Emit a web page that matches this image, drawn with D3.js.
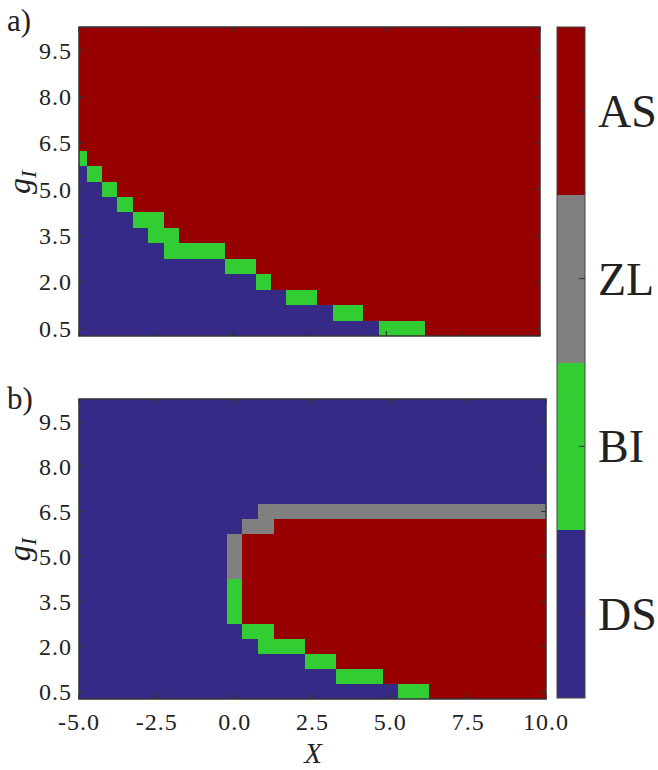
<!DOCTYPE html>
<html>
<head>
<meta charset="utf-8">
<script src="https://cdn.jsdelivr.net/npm/d3@7"></script>
<style>
  body { margin: 0; background: #fff; }
  text { font-family: "Liberation Serif", "DejaVu Serif", serif; fill: #222; }
</style>
</head>
<body>
<svg id="chart" width="658" height="770"></svg>
<script>
// phase categories (colorbar order, bottom to top)
const phases = ["DS", "BI", "ZL", "AS"];
const phaseColors = { DS: "#352a86", BI: "#32cd32", ZL: "#808080", AS: "#960000" };

// grid of the parameter scan
const xValues = [-5, -4.5, -4, -3.5, -3, -2.5, -2, -1.5, -1, -0.5, 0, 0.5, 1, 1.5, 2, 2.5,
                 3, 3.5, 4, 4.5, 5, 5.5, 6, 6.5, 7, 7.5, 8, 8.5, 9, 9.5, 10];
// rows from top (g=10.0) to bottom (g=0.5)
const gValues = [10, 9.5, 9, 8.5, 8, 7.5, 7, 6.5, 6, 5.5, 5, 4.5, 4, 3.5, 3, 2.5, 2, 1.5, 1, 0.5];

const xTicks = [-5, -2.5, 0, 2.5, 5, 7.5, 10];
const yTicks = [0.5, 2.0, 3.5, 5.0, 6.5, 8.0, 9.5];

// each row as runs: phase + count of cells, left to right
const panelARows = [
  "A31", "A31", "A31", "A31", "A31", "A31", "A31", "A31",
  "B1 A30",
  "D1 B1 A29",
  "D2 B1 A28",
  "D3 B1 A27",
  "D4 B2 A25",
  "D5 B2 A24",
  "D6 B4 A21",
  "D10 B2 A19",
  "D12 B1 A18",
  "D14 B2 A15",
  "D17 B2 A12",
  "D20 B3 A8"
];
const panelBRows = [
  "D31", "D31", "D31", "D31", "D31", "D31", "D31",
  "D12 Z19",
  "D11 Z2 A18",
  "D10 Z1 A20",
  "D10 Z1 A20",
  "D10 Z1 A20",
  "D10 B1 A20",
  "D10 B1 A20",
  "D10 B1 A20",
  "D11 B2 A18",
  "D12 B3 A16",
  "D15 B2 A14",
  "D17 B3 A11",
  "D21 B2 A8"
];

const codeToPhase = { D: "DS", B: "BI", Z: "ZL", A: "AS" };

function decodeRows(rows) {
  const cells = [];
  rows.forEach((row, r) => {
    let col = 0;
    row.split(" ").forEach(run => {
      const phase = codeToPhase[run[0]];
      const n = +run.slice(1);
      for (let k = 0; k < n; k++) {
        cells.push({ x: xValues[col], g: gValues[r], phase: phase });
        col++;
      }
    });
  });
  return cells;
}

const svg = d3.select("#chart");

function drawPanel(rows, box, label, showXLabels) {
  const x = d3.scaleLinear().domain([-5, 10]).range([box.left, box.right]).clamp(true);
  const y = d3.scaleLinear().domain([0.25, 10.25]).range([box.bottom, box.top]).clamp(true);
  const g = svg.append("g");

  g.selectAll("rect.cell")
    .data(decodeRows(rows))
    .join("rect")
    .attr("class", "cell")
    .attr("x", d => x(d.x - 0.25))
    .attr("width", d => x(d.x + 0.25) - x(d.x - 0.25))
    .attr("y", d => y(d.g + 0.25))
    .attr("height", d => y(d.g - 0.25) - y(d.g + 0.25))
    .attr("fill", d => phaseColors[d.phase])
    .attr("shape-rendering", "crispEdges");

  // inward ticks on all four sides
  const tickLen = 5;
  xTicks.forEach(t => {
    g.append("line").attr("x1", x(t)).attr("x2", x(t))
      .attr("y1", box.bottom).attr("y2", box.bottom - tickLen)
      .attr("stroke", "#333").attr("stroke-width", 1.2);
    g.append("line").attr("x1", x(t)).attr("x2", x(t))
      .attr("y1", box.top).attr("y2", box.top + tickLen)
      .attr("stroke", "#333").attr("stroke-width", 1.2);
  });
  yTicks.forEach(t => {
    g.append("line").attr("x1", box.left).attr("x2", box.left + tickLen)
      .attr("y1", y(t)).attr("y2", y(t))
      .attr("stroke", "#333").attr("stroke-width", 1.2);
    g.append("line").attr("x1", box.right).attr("x2", box.right - tickLen)
      .attr("y1", y(t)).attr("y2", y(t))
      .attr("stroke", "#333").attr("stroke-width", 1.2);
    g.append("text")
      .attr("x", box.left - 7).attr("y", y(t))
      .attr("dy", "0.35em")
      .attr("text-anchor", "end")
      .attr("font-size", 24)
      .attr("letter-spacing", 1)
      .text(t.toFixed(1));
  });

  if (showXLabels) {
    xTicks.forEach(t => {
      g.append("text")
        .attr("x", x(t)).attr("y", box.bottom + 31)
        .attr("text-anchor", "middle")
        .attr("font-size", 24)
        .attr("letter-spacing", 1)
        .text(t.toFixed(1));
    });
  }

  g.append("rect")
    .attr("x", box.left).attr("y", box.top)
    .attr("width", box.right - box.left).attr("height", box.bottom - box.top)
    .attr("fill", "none").attr("stroke", "#333").attr("stroke-width", 1.5);

  // y axis label g_I
  const yl = g.append("text")
    .attr("transform", `translate(${box.left - 49},${y(5.0) - 7}) rotate(-90)`)
    .attr("text-anchor", "middle")
    .attr("font-size", 32)
    .attr("font-style", "italic");
  yl.append("tspan").text("g");
  yl.append("tspan").attr("font-size", 22).attr("dy", 6).text("I");

  // panel label
  svg.append("text")
    .attr("x", 7).attr("y", box.top + (label === "a)" ? 4 : 10))
    .attr("font-size", 31)
    .text(label);
}

drawPanel(panelARows, { left: 79, right: 540, top: 27, bottom: 336 }, "a)", false);
drawPanel(panelBRows, { left: 79, right: 546, top: 399, bottom: 699 }, "b)", true);

// x axis label
svg.append("text")
  .attr("x", 313).attr("y", 763)
  .attr("text-anchor", "middle")
  .attr("font-size", 29)
  .attr("font-style", "italic")
  .text("X");

// colorbar
const cb = { left: 557, right: 585, top: 27, bottom: 698 };
const cbScale = d3.scaleBand().domain(phases).range([cb.bottom, cb.top]);
const cbg = svg.append("g");
cbg.selectAll("rect.seg")
  .data(phases)
  .join("rect")
  .attr("class", "seg")
  .attr("x", cb.left)
  .attr("width", cb.right - cb.left)
  .attr("y", d => cbScale(d))
  .attr("height", cbScale.bandwidth())
  .attr("fill", d => phaseColors[d])
  .attr("shape-rendering", "crispEdges");
cbg.append("rect")
  .attr("x", cb.left).attr("y", cb.top)
  .attr("width", cb.right - cb.left).attr("height", cb.bottom - cb.top)
  .attr("fill", "none").attr("stroke", "#444").attr("stroke-width", 1);
phases.forEach(p => {
  const cy = cbScale(p) + cbScale.bandwidth() / 2;
  cbg.append("line").attr("x1", cb.right).attr("x2", cb.right - 6)
    .attr("y1", cy).attr("y2", cy).attr("stroke", "#333").attr("stroke-width", 1);
  cbg.append("text")
    .attr("x", 598).attr("y", cy)
    .attr("dy", "0.35em")
    .attr("font-size", 46)
    .text(p);
});
</script>
</body>
</html>
